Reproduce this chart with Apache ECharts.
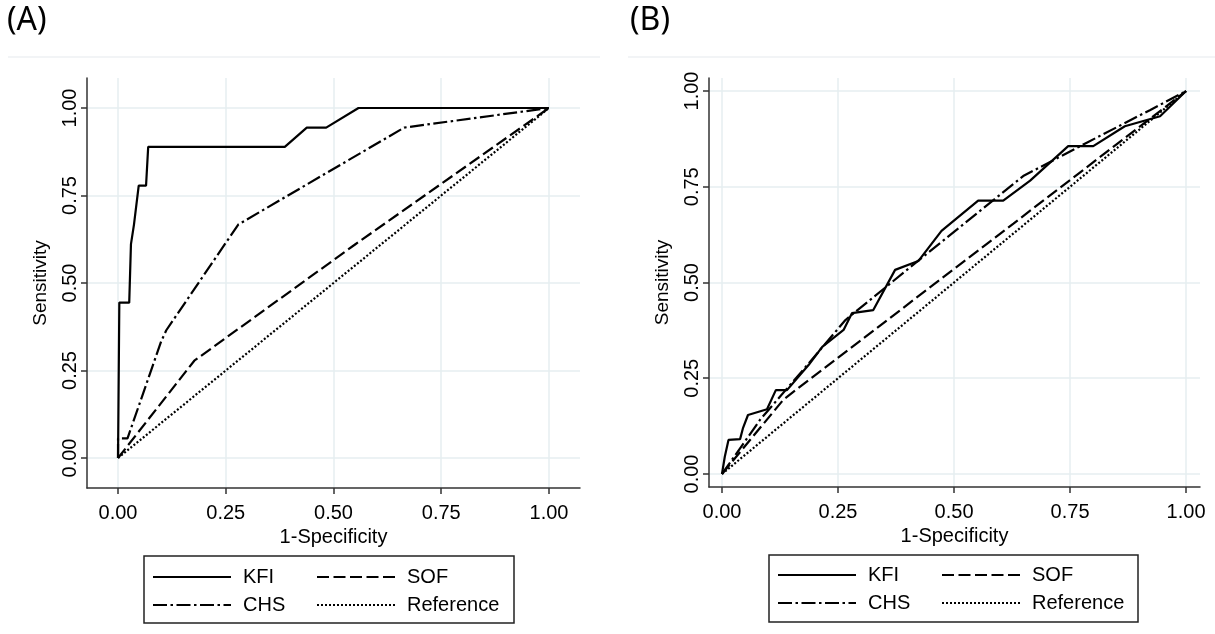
<!DOCTYPE html>
<html>
<head>
<meta charset="utf-8">
<script src="https://cdn.jsdelivr.net/npm/echarts@6/dist/echarts.min.js"></script>
<style>html,body{margin:0;padding:0;background:#fff;}#c{width:1215px;height:634px;}</style>
</head>
<body>
<div id="c"></div>
<script>
// ---- data ----
const tickValues = [0, 0.25, 0.5, 0.75, 1];
const tickLabels = ['0.00', '0.25', '0.50', '0.75', '1.00'];
const seriesNames = ['KFI', 'CHS', 'SOF', 'Reference'];

// Panel A
const kfiA = [[0,0],[0.003,0.444],[0.026,0.444],[0.030,0.611],[0.037,0.667],[0.048,0.778],[0.065,0.778],[0.070,0.889],[0.387,0.889],[0.438,0.944],[0.483,0.944],[0.558,1],[1,1]];
const chsA = [[0,0],[0,0.056],[0.022,0.056],[0.100,0.333],[0.112,0.365],[0.279,0.667],[0.664,0.944],[1,1]];
const sofA = [[0,0],[0.177,0.278],[0.55,0.61],[1,1]];
const refA = [[0,0],[1,1]];

// Panel B
const kfiB = [[0,0],[0.006,0.045],[0.014,0.089],[0.039,0.091],[0.045,0.119],[0.056,0.154],[0.097,0.169],[0.116,0.219],[0.140,0.219],[0.187,0.285],[0.216,0.332],[0.262,0.376],[0.280,0.420],[0.326,0.428],[0.373,0.533],[0.423,0.556],[0.473,0.635],[0.552,0.714],[0.606,0.714],[0.664,0.766],[0.746,0.856],[0.800,0.856],[0.868,0.908],[0.944,0.934],[1,1]];
const chsB = [[0,0],[0.083,0.143],[0.187,0.289],[0.266,0.402],[0.427,0.561],[0.649,0.778],[0.786,0.865],[0.922,0.950],[1,1]];
const sofB = [[0,0],[0.133,0.195],[0.628,0.654],[1,1]];
const refB = [[0,0],[1,1]];

// ---- styles ----
const FONT = 'Liberation Sans';
const styles = {
  KFI: {type: 'solid', width: 2.2},
  CHS: {type: [14, 3.5, 2.5, 3.5], width: 2.2},
  SOF: {type: [12, 4.5], width: 2.2},
  Reference: {type: [2, 2], width: 2.2}
};
const gridColor = '#e6eef0';

function fmt(v) { return tickLabels[tickValues.indexOf(+(+v).toFixed(2))] || ''; }

function xAxis(gridIndex, min, max) {
  return {
    type: 'value', gridIndex, min, max,
    name: '1-Specificity', nameLocation: 'middle', nameGap: 35,
    nameTextStyle: {fontFamily: FONT, fontSize: 20, color: '#000'},
    axisLine: {show: true, onZero: false, lineStyle: {color: '#333', width: 1.5}},
    axisTick: {show: true, length: 6, customValues: tickValues, lineStyle: {color: '#333', width: 1.5}},
    axisLabel: {customValues: tickValues, formatter: fmt, fontFamily: FONT, fontSize: 20, color: '#000', margin: 15},
    splitLine: {show: true, lineStyle: {color: gridColor, width: 1.5}}
  };
}
function yAxis(gridIndex, min, max) {
  return {
    type: 'value', gridIndex, min, max,
    name: 'Sensitivity', nameLocation: 'middle', nameGap: 37,
    nameTextStyle: {fontFamily: FONT, fontSize: 19, color: '#000'},
    axisLine: {show: true, onZero: false, lineStyle: {color: '#333', width: 1.5}},
    axisTick: {show: true, length: 6, customValues: tickValues, lineStyle: {color: '#333', width: 1.5}},
    axisLabel: {customValues: tickValues, rotate: 90, formatter: fmt, fontFamily: FONT, fontSize: 20, color: '#000', margin: 7},
    splitLine: {show: true, lineStyle: {color: gridColor, width: 1.5}}
  };
}
function series(name, data, idx, z) {
  return {
    name, type: 'line', data, xAxisIndex: idx, yAxisIndex: idx,
    symbol: 'none', showSymbol: false, z,
    lineStyle: Object.assign({color: '#000'}, styles[name]),
    itemStyle: {color: '#000'},
    animation: false
  };
}
function legend(data, left, top) {
  return {
    data, orient: 'vertical', left, top, padding: 0,
    itemWidth: 78, itemHeight: 14, itemGap: 8, selectedMode: false,
    itemStyle: {opacity: 0, borderWidth: 0},
    textStyle: {fontFamily: FONT, fontSize: 20, color: '#000', lineHeight: 20, padding: [0, 0, 0, 7]}
  };
}

const chart = echarts.init(document.getElementById('c'), null, {renderer: 'canvas'});
chart.setOption({
  backgroundColor: '#fff',
  animation: false,
  grid: [
    {left: 87, top: 78, width: 493, height: 410},
    {left: 709, top: 78, width: 491, height: 409}
  ],
  xAxis: [xAxis(0, -0.072, 1.072), xAxis(1, -0.028, 1.030)],
  yAxis: [yAxis(0, -0.0857, 1.0857), yAxis(1, -0.034, 1.034)],
  legend: [
    legend(['KFI', 'CHS'], 152, 567),
    legend(['SOF', 'Reference'], 316, 567),
    legend(['KFI', 'CHS'], 777, 565),
    legend(['SOF', 'Reference'], 941, 565)
  ],
  graphic: [
    {type: 'text', left: 7, top: 5, style: {text: '(A)', font: '32px "Noto Sans"', fill: '#000'}},
    {type: 'text', left: 630, top: 5, style: {text: '(B)', font: '32px "Noto Sans"', fill: '#000'}},
    {type: 'line', shape: {x1: 8, y1: 57, x2: 600, y2: 57}, style: {stroke: '#eef1f3', lineWidth: 1.5}},
    {type: 'line', shape: {x1: 628, y1: 57, x2: 1215, y2: 57}, style: {stroke: '#eef1f3', lineWidth: 1.5}},
    {type: 'rect', shape: {x: 144, y: 556, width: 370, height: 67}, style: {fill: 'none', stroke: '#222', lineWidth: 1.5}},
    {type: 'rect', shape: {x: 769, y: 555, width: 369, height: 67}, style: {fill: 'none', stroke: '#222', lineWidth: 1.5}}
  ],
  series: [
    series('Reference', refA, 0, 2), series('SOF', sofA, 0, 3), series('CHS', chsA, 0, 4), series('KFI', kfiA, 0, 5),
    series('Reference', refB, 1, 2), series('SOF', sofB, 1, 3), series('CHS', chsB, 1, 4), series('KFI', kfiB, 1, 5)
  ]
});
</script>
</body>
</html>
